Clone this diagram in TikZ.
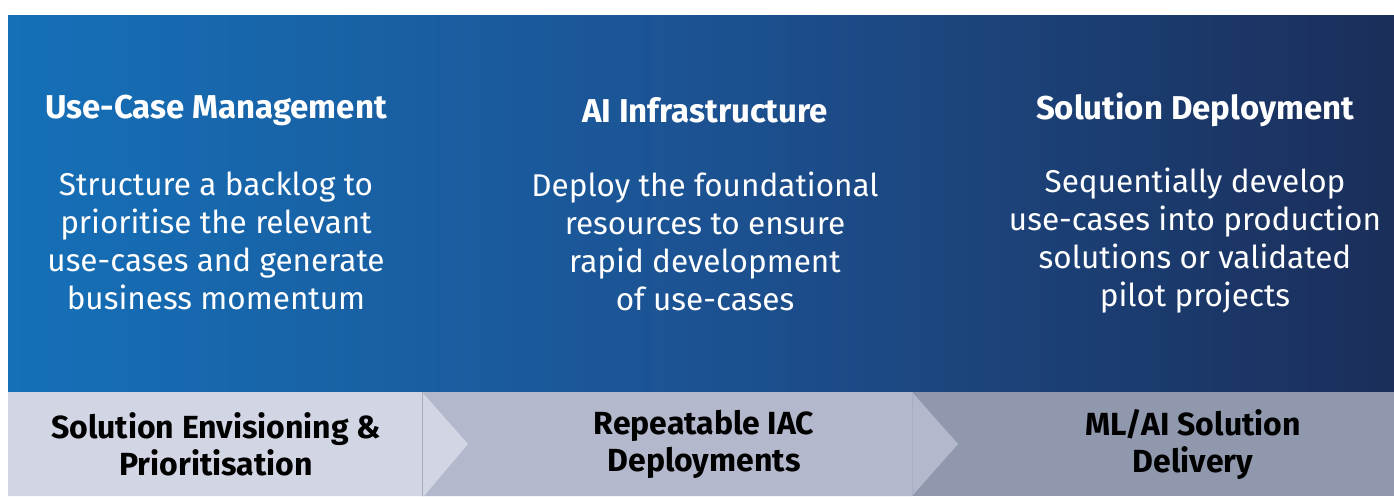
\documentclass[tikz,border=0pt]{standalone}
\usepackage{fontspec}
\setmainfont{Fira Sans}
\definecolor{gradL}{RGB}{21,112,184}
\definecolor{gradM}{RGB}{28,82,146}
\definecolor{gradR}{RGB}{27,46,90}
\definecolor{segA}{RGB}{210,213,228}
\definecolor{segB}{RGB}{179,184,204}
\definecolor{segC}{RGB}{144,152,174}
\definecolor{segLine}{RGB}{168,174,196}
\tikzset{
  title/.style={text=white, font=\fontsize{33}{38}\selectfont\bfseries, align=center, inner sep=0pt},
  body/.style={text=white, font=\fontsize{31.5}{38}\selectfont, align=center, inner sep=0pt},
  label/.style={text=black, font=\fontsize{32}{37}\selectfont\bfseries, align=center, inner sep=0pt}
}
\begin{document}
\begin{tikzpicture}[x=1pt,y=-1pt]
\useasboundingbox (0,0) rectangle (1394,496);
\fill[white] (0,0) rectangle (1394,496);
\shade[left color=gradL, right color=gradR, middle color=gradM] (8,15) rectangle (1394,392);
% bottom chevrons
\fill[segC] (912,392) rectangle (1394,496);
\fill[segB] (422,392) -- (912,392) -- (958,444) -- (912,496) -- (422,496) -- cycle;
\draw[segLine, line width=0.8pt] (912,392) -- (912,496);
\fill[segA] (8,392) -- (422,392) -- (468,444) -- (424,496) -- (8,496) -- cycle;
\draw[segLine, line width=0.8pt] (422,392) -- (422,496);
% titles
\node[title] (t1) at (216,110) {Use-Case Management};
\node[title] (t2) at (705,110) {AI Infrastructure};
\node[title] (t3) at (1195,110) {Solution Deployment};
% bodies
\node[body] (b1) at (216,241) {Structure a backlog to\\prioritise the relevant\\use-cases and generate\\business momentum};
\node[body] (b2) at (705,241) {Deploy the foundational\\resources to ensure\\rapid development\\of use-cases};
\node[body] (b3) at (1195,241) {Sequentially develop\\use-cases into production\\solutions or validated\\pilot projects};
% labels
\node[label] (l1) at (216,444) {Solution Envisioning \&\\Prioritisation};
\node[label] (l2) at (704,444) {Repeatable IAC\\Deployments};
\node[label] (l3) at (1193,444) {ML/AI Solution\\Delivery};
\end{tikzpicture}
\end{document}
